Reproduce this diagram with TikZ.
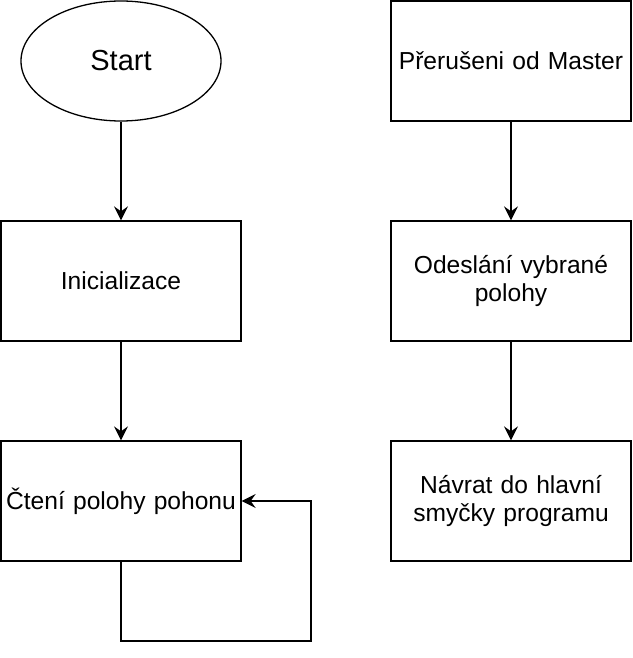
\documentclass[tikz,border=0pt]{standalone}
\usepackage{fontspec}
\setmainfont{Liberation Sans}
\usetikzlibrary{arrows.meta,shapes.geometric}
\begin{document}
\begin{tikzpicture}[x=0.5pt,y=-0.5pt,
  box/.style={draw,line width=0.65pt,minimum width=120pt,minimum height=60pt,inner sep=0pt,align=center,font=\fontsize{12.3}{14}\selectfont,text width=119pt},
  oval/.style={draw,line width=0.65pt,ellipse,minimum width=100pt,minimum height=60pt,inner sep=0pt,font=\fontsize{14.5}{17}\selectfont},
  conn/.style={line width=0.65pt,-{Stealth[length=7pt,width=7pt,inset=2.5pt]}}]
\useasboundingbox (0,0) rectangle (632,658);
\node[oval] (start) at (121,61) {\raisebox{-1pt}{Start}};
\node[box] (init) at (121,281) {Inicializace};
\node[box] (cteni) at (121,501) {Čtení polohy pohonu};
\node[box] (prer) at (511,61) {Přerušeni od Master};
\node[box] (odes) at (511,281) {Odeslání vybrané\\polohy};
\node[box] (navr) at (511,501) {Návrat do hlavní\\smyčky programu};
\coordinate (loop) at (311,641);
\draw[conn] (start) -- (init);
\draw[conn] (init) -- (cteni);
\draw[conn] (prer) -- (odes);
\draw[conn] (odes) -- (navr);
\draw[conn] (cteni.south) |- (loop) |- (cteni.east);
\end{tikzpicture}
\end{document}
